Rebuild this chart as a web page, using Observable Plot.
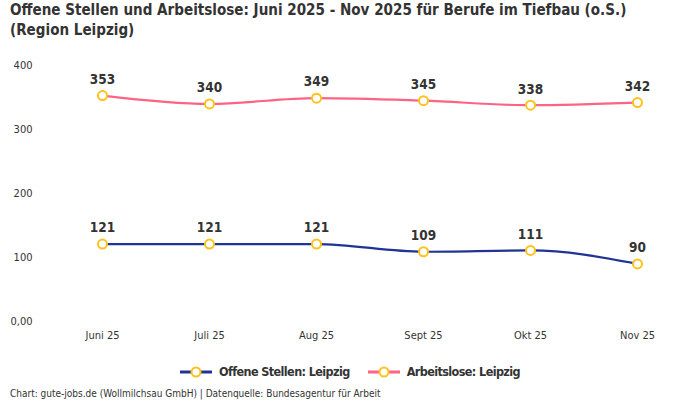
<!DOCTYPE html>
<html><head><meta charset="utf-8">
<script src="https://cdn.jsdelivr.net/npm/d3@7"></script>
<script src="https://cdn.jsdelivr.net/npm/@observablehq/plot@0.6"></script>
<style>
body{margin:0;width:700px;height:400px;background:#fff;font-family:"DejaVu Sans Condensed",sans-serif;color:#333;overflow:hidden;position:relative}
#title{position:absolute;left:10px;top:0px;font-weight:bold;font-size:16.5px;line-height:20px;color:#333;transform:scaleX(0.912);transform-origin:left top;white-space:nowrap}
#chart{position:absolute;left:0;top:50px}
#legend{position:absolute;top:364px;left:0;width:700px;display:flex;justify-content:center;gap:18px;font-weight:bold;font-size:12.5px;letter-spacing:-0.6px;color:#333}
#legend .it{display:flex;align-items:center;gap:7px}
#caption{position:absolute;left:10px;top:388px;font-size:10px;color:#333}
</style></head><body>
<div id="title">Offene Stellen und Arbeitslose: Juni 2025 - Nov 2025 für Berufe im Tiefbau (o.S.)<br>(Region Leipzig)</div>
<div id="chart"></div>
<div id="legend"></div>
<div id="caption">Chart: gute-jobs.de (Wollmilchsau GmbH) | Datenquelle: Bundesagentur für Arbeit</div>
<script>
const months = ["Juni 25","Juli 25","Aug 25","Sept 25","Okt 25","Nov 25"];
const offeneStellen = [121,121,121,109,111,90];
const arbeitslose = [353,340,349,345,338,342];
const seriesNames = ["Offene Stellen: Leipzig","Arbeitslose: Leipzig"];
const seriesColors = ["#1f3494","#ff6384"];
const yTicks = [0,100,200,300,400];

const data = [];
months.forEach((m,i)=>{
  data.push({month:m, value:offeneStellen[i], series:seriesNames[0]});
  data.push({month:m, value:arbeitslose[i], series:seriesNames[1]});
});

const chart = Plot.plot({
  width:700, height:300,
  marginTop:15, marginBottom:29, marginLeft:48, marginRight:10,
  style:{fontFamily:'"DejaVu Sans Condensed",sans-serif', fontSize:"11px", color:"#333", background:"transparent"},
  x:{type:"point", domain:months, padding:0.5, label:null},
  y:{domain:[0,400], label:null},
  color:{domain:seriesNames, range:seriesColors},
  marks:[
    Plot.gridY(yTicks,{stroke:"#c4c4c4", strokeOpacity:1, strokeDasharray:"4,4", x1:48, x2:690}),
    Plot.axisY(yTicks,{tickSize:0, tickPadding:0, dx:-16, textAnchor:"end", fontSize:11,
      tickFormat:d=>d===0?"0,00":String(d)}),
    Plot.axisX({tickSize:0, tickPadding:10, fontSize:11}),
    Plot.line(data,{x:"month", y:"value", z:"series", stroke:"series", strokeWidth:2.2, curve:"monotone-x"}),
    Plot.dot(data,{x:"month", y:"value", r:4.5, fill:"white", stroke:"#ffc21a", strokeWidth:2}),
    Plot.text(data,{x:"month", y:"value", text:d=>String(d.value), dy:-16, fontSize:13.5, fontWeight:"bold", fill:"#333"})
  ]
});
document.getElementById("chart").appendChild(chart);

const lg = document.getElementById("legend");
seriesNames.forEach((n,i)=>{
  const it = document.createElement("div"); it.className="it";
  it.innerHTML = `<svg width="32" height="12"><line x1="0" y1="6" x2="32" y2="6" stroke="${seriesColors[i]}" stroke-width="3"/><circle cx="16" cy="6" r="4.5" fill="white" stroke="#ffc21a" stroke-width="2"/></svg><span>${n}</span>`;
  lg.appendChild(it);
});
</script>
</body></html>
